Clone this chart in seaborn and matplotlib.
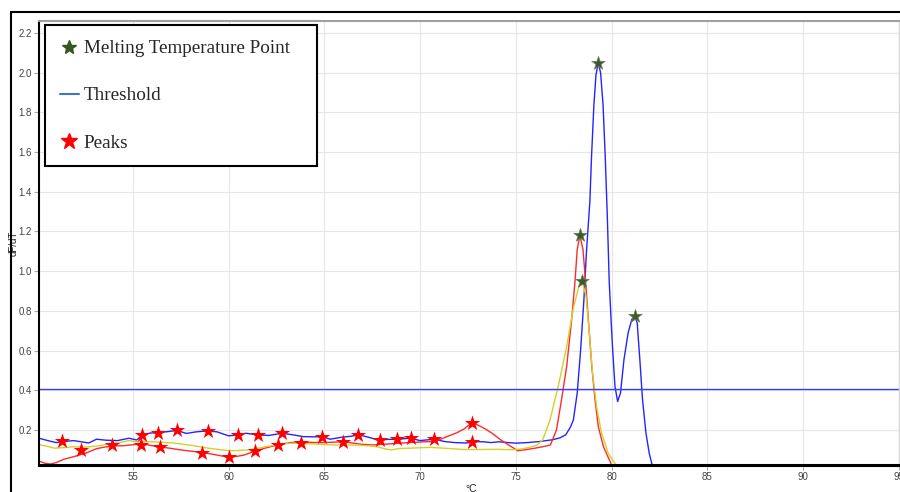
import numpy as np
import pandas as pd
import matplotlib
matplotlib.use("Agg")
import matplotlib.pyplot as plt
from matplotlib.lines import Line2D
from matplotlib.patches import Rectangle
import seaborn as sns

# Melt curves (derivative of fluorescence vs temperature)
blue_T = [50.1, 50.6, 51.0, 51.5, 51.9, 52.3, 52.7, 53.1, 53.6, 54.2, 54.8, 55.2, 55.5,
          55.9, 56.3, 56.9, 57.3, 57.8, 58.3, 58.9, 59.4, 60.0, 60.5, 60.9, 61.5, 62.1,
          62.8, 63.3, 63.9, 64.5, 64.9, 65.3, 65.9, 66.4, 66.8, 67.3, 67.8, 68.3, 68.8,
          69.5, 70.0, 70.7, 71.3, 71.8, 72.4, 72.9, 73.3, 73.7, 74.1, 74.6, 75.0, 75.6,
          76.2, 76.9, 77.3, 77.6, 77.85, 78.0, 78.2, 78.38, 78.55, 78.69, 78.86, 78.95,
          79.07, 79.18, 79.3, 79.42, 79.55, 79.66, 79.77, 79.87, 79.97, 80.05, 80.17,
          80.31, 80.46, 80.64, 80.86, 81.05, 81.2, 81.33, 81.47, 81.61, 81.79, 81.96, 82.12]
blue_V = [0.158, 0.145, 0.136, 0.142, 0.146, 0.140, 0.134, 0.153, 0.148, 0.146, 0.158, 0.149, 0.175,
          0.184, 0.186, 0.192, 0.197, 0.182, 0.190, 0.195, 0.190, 0.170, 0.175, 0.183, 0.175, 0.172,
          0.183, 0.176, 0.166, 0.165, 0.166, 0.153, 0.163, 0.168, 0.175, 0.163, 0.149, 0.152, 0.153,
          0.158, 0.146, 0.153, 0.141, 0.136, 0.134, 0.141, 0.140, 0.136, 0.140, 0.136, 0.133, 0.136,
          0.141, 0.150, 0.160, 0.175, 0.215, 0.250, 0.386, 0.605, 0.858, 1.110, 1.350, 1.584,
          1.837, 1.990, 2.050, 2.000, 1.837, 1.584, 1.280, 0.950, 0.750, 0.605, 0.420,
          0.343, 0.386, 0.554, 0.690, 0.757, 0.775, 0.740, 0.554, 0.352, 0.183, 0.082, 0.020]

red_T = [50.1, 50.4, 50.7, 51.0, 51.4, 51.8, 52.2, 52.6, 53.1, 53.5, 54.0, 54.5, 54.9, 55.4,
         55.8, 56.3, 56.9, 57.5, 58.1, 58.7, 59.4, 60.0, 60.4, 60.8, 61.4, 61.9, 62.3, 62.7,
         63.2, 63.7, 64.3, 64.9, 65.5, 66.0, 66.5, 66.9, 67.5, 68.2, 68.9, 69.6, 70.5, 71.0,
         71.4, 71.9, 72.3, 72.7, 73.0, 73.4, 73.8, 74.2, 74.6, 75.1, 75.5, 76.0, 76.4, 76.8,
         77.12, 77.38, 77.65, 77.91, 78.08, 78.2, 78.34, 78.5, 78.64, 78.78, 78.96, 79.13,
         79.3, 79.57, 79.92, 80.02]
red_V = [0.043, 0.032, 0.028, 0.035, 0.052, 0.062, 0.073, 0.085, 0.105, 0.113, 0.119, 0.120, 0.124, 0.130,
         0.124, 0.115, 0.108, 0.099, 0.092, 0.085, 0.073, 0.062, 0.066, 0.073, 0.094, 0.108, 0.118, 0.125,
         0.136, 0.139, 0.137, 0.136, 0.138, 0.141, 0.133, 0.128, 0.124, 0.128, 0.133, 0.137, 0.141, 0.150,
         0.166, 0.185, 0.205, 0.237, 0.225, 0.205, 0.180, 0.150, 0.125, 0.095, 0.100, 0.108, 0.115, 0.124,
         0.200, 0.352, 0.520, 0.757, 0.943, 1.110, 1.180, 1.110, 0.943, 0.757, 0.520, 0.352,
         0.217, 0.115, 0.040, 0.015]

yellow_T = [50.1, 50.5, 50.9, 51.3, 51.9, 52.5, 53.1, 53.7, 54.3, 54.8, 55.2, 55.6, 56.0, 56.6,
            57.2, 57.9, 58.5, 59.0, 59.6, 60.1, 60.5, 61.0, 61.5, 61.9, 62.4, 62.9, 63.5, 64.2,
            64.9, 65.5, 66.2, 66.8, 67.3, 67.8, 68.2, 68.5, 68.9, 69.5, 70.5, 71.2, 71.8, 72.3,
            73.0, 74.0, 74.8, 75.3, 75.7, 76.1, 76.4, 76.78, 77.21, 77.65, 77.99, 78.25, 78.45,
            78.66, 78.83, 79.0, 79.21, 79.47, 79.82, 80.25]
yellow_V = [0.125, 0.118, 0.108, 0.110, 0.115, 0.113, 0.118, 0.128, 0.136, 0.146, 0.140, 0.142, 0.140, 0.137,
            0.133, 0.124, 0.115, 0.107, 0.100, 0.095, 0.096, 0.099, 0.106, 0.115, 0.122, 0.131, 0.133, 0.130,
            0.127, 0.124, 0.124, 0.123, 0.120, 0.114, 0.104, 0.099, 0.106, 0.108, 0.112, 0.108, 0.104, 0.101,
            0.101, 0.102, 0.100, 0.104, 0.112, 0.124, 0.150, 0.250, 0.420, 0.620, 0.810, 0.910, 0.950,
            0.875, 0.690, 0.487, 0.318, 0.183, 0.082, 0.020]

# Detected peaks below the threshold
peak_T = [51.31, 52.28, 53.89, 55.50, 55.42, 56.29, 56.41, 57.31, 58.62, 58.90, 60.03, 60.50, 61.40,
          61.54, 62.59, 62.80, 63.76, 64.85, 65.98, 66.75, 67.90, 68.77, 69.52, 70.72, 72.69, 72.69]
peak_V = [0.144, 0.099, 0.124, 0.175, 0.124, 0.186, 0.112, 0.197, 0.085, 0.195, 0.062, 0.175, 0.094,
          0.175, 0.124, 0.183, 0.133, 0.166, 0.141, 0.175, 0.149, 0.153, 0.158, 0.153, 0.237, 0.141]

# Melting temperature points (main peaks)
tm_T = [78.34, 78.45, 79.30, 81.20]
tm_V = [1.180, 0.950, 2.050, 0.775]

threshold = 0.408

x_ticks = [55, 60, 65, 70, 75, 80, 85, 90, 95]
y_ticks = [0.2, 0.4, 0.6, 0.8, 1.0, 1.2, 1.4, 1.6, 1.8, 2.0, 2.2]

curves = pd.concat([
    pd.DataFrame({"T": blue_T, "dFdT": blue_V, "sample": "A"}),
    pd.DataFrame({"T": red_T, "dFdT": red_V, "sample": "B"}),
    pd.DataFrame({"T": yellow_T, "dFdT": yellow_V, "sample": "C"}),
], ignore_index=True)
palette = {"A": "#2424ff", "B": "#ff2a2a", "C": "#d6cf2a"}

sns.set_style("white")
plt.rcParams["font.family"] = ["Liberation Sans", "DejaVu Sans"]

fig = plt.figure(figsize=(9, 4.92), dpi=100)
ax = fig.add_axes([39 / 900, 27 / 492, 860 / 900, 444 / 492])

sns.lineplot(data=curves, x="T", y="dFdT", hue="sample", palette=palette,
             estimator=None, sort=False, lw=1.0, legend=False, ax=ax, zorder=2)
ax.axhline(threshold, color="#3a3aff", lw=1.0, zorder=2)

sns.scatterplot(x=peak_T, y=peak_V, marker="*", s=135, color="#ff0000",
                linewidth=0, legend=False, ax=ax, zorder=4)
sns.scatterplot(x=tm_T, y=tm_V, marker="*", s=105, color="#3b5a28",
                edgecolor="#6d8060", linewidth=0.5, legend=False, ax=ax, zorder=5)

ax.set_xlim(50.1, 95.0)
ax.set_ylim(0.023, 2.261)
ax.set_xticks(x_ticks)
ax.set_xticklabels([str(t) for t in x_ticks])
ax.set_yticks(y_ticks)
ax.set_yticklabels([f"{t:.1f}" for t in y_ticks])
ax.tick_params(axis="both", labelsize=7, labelcolor="#444444", color="#aaaaaa",
               length=3.5, width=0.8, pad=1.5, left=True, bottom=True)
ax.grid(True, color="#e6e6e6", lw=0.8)
ax.set_axisbelow(True)

ax.spines["left"].set_color("black")
ax.spines["left"].set_linewidth(1.5)
ax.spines["bottom"].set_color("black")
ax.spines["bottom"].set_linewidth(2.2)
ax.spines["top"].set_color("#a0a0a0")
ax.spines["top"].set_linewidth(1.5)
ax.spines["right"].set_color("#d8d8d8")
ax.spines["right"].set_linewidth(1.0)

ax.set_ylabel("dF/dT", fontsize=7, color="#222222")
ax.yaxis.set_label_coords(-0.024, 0.5)
ax.set_xlabel("°C", fontsize=7.5, color="#222222", va="top")
ax.xaxis.set_label_coords(0.502, -0.043)

handles = [
    Line2D([], [], ls="none", marker="*", markersize=10, color="#375623"),
    Line2D([], [], color="#4472c4", lw=1.5),
    Line2D([], [], ls="none", marker="*", markersize=12, color="#ff0000"),
]
labels = ["Melting Temperature Point", "Threshold", "Peaks"]
leg = ax.legend(handles, labels, loc="upper left",
                bbox_to_anchor=(6 / 860, 1 - 149 / 444, 272 / 860, 145 / 444),
                mode="expand", borderaxespad=0, fancybox=False, framealpha=1,
                edgecolor="black", prop={"family": "Liberation Serif", "size": 13.75},
                handlelength=1.0, handletextpad=0.25, labelspacing=1.56, borderpad=0.78)
leg.get_frame().set_linewidth(1.5)
leg.set_zorder(10)

# outer border around the figure
fig.add_artist(Rectangle((10.5 / 900, -0.05), 1.2, 1.0256, transform=fig.transFigure,
                         fill=False, ec="black", lw=1.5, clip_on=False))

fig.savefig("out.png", dpi=100)
